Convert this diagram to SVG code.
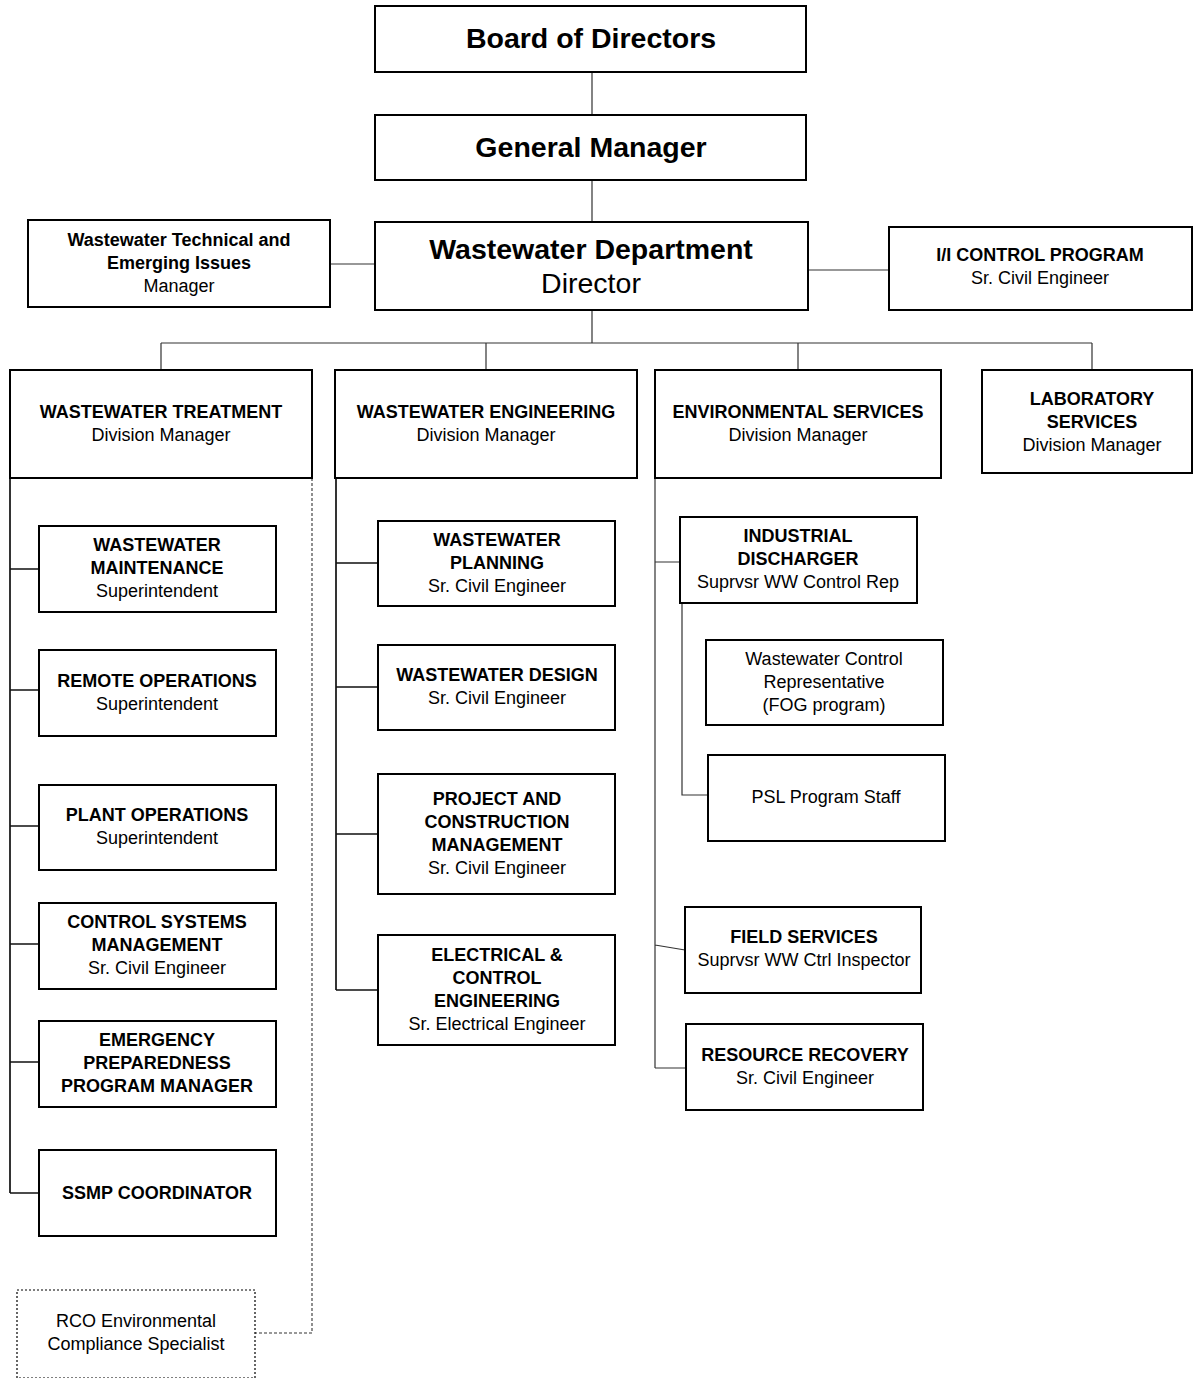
<svg xmlns="http://www.w3.org/2000/svg" width="1201" height="1378" viewBox="0 0 1201 1378">
<style>
.box{fill:#fff;stroke:#000;stroke-width:2}
.dot{fill:#fff;stroke:#000;stroke-width:1.2;stroke-dasharray:2 2}
.c{fill:none;stroke:#333;stroke-width:1.2}
.k{fill:none;stroke:#111;stroke-width:1.7}
.cd{fill:none;stroke:#333;stroke-width:1.1;stroke-dasharray:3 2}
text{font-family:"Liberation Sans",Arial,sans-serif;text-anchor:middle;fill:#000}
.b{font-weight:bold;font-size:18px}
.r{font-size:18px}
.B{font-weight:bold;font-size:28.5px}
.R{font-size:28.5px}
</style>
<rect width="1201" height="1378" fill="#fff"/>
<g id="connectors">
<path class="c" d="M592 72V115M592 180V222M331 264H375M808 270H889M592 310V343M161 343H1092M161 343V370M486 343V370M798 343V370M1092 343V370"/>
<path class="k" d="M10 478V1193M10 569H39M10 690H39M10 826H39M10 944H39M10 1062H39M10 1193H39"/>
<path class="k" d="M336 478V990M336 563H378M336 687H378M336 834H378M336 990H378"/>
<path class="c" d="M655 478V1068M655 562H680M655 945L685 950M655 1068H686M682 603V795H708"/>
<path class="cd" d="M312 478V1333H255"/>
</g>
<g id="board"><rect class="box" x="375" y="6" width="431" height="66"/><text class="B" x="591" y="48">Board of Directors</text></g>
<g id="gm"><rect class="box" x="375" y="115" width="431" height="65"/><text class="B" x="591" y="157">General Manager</text></g>
<g id="wwd"><rect class="box" x="375" y="222" width="433" height="88"/><text class="B" x="591" y="259">Wastewater Department</text><text class="R" x="591" y="293">Director</text></g>
<g id="tech"><rect class="box" x="28" y="220" width="302" height="87"/><text class="b" x="179" y="246">Wastewater Technical and</text><text class="b" x="179" y="269">Emerging Issues</text><text class="r" x="179" y="292">Manager</text></g>
<g id="ii"><rect class="box" x="889" y="227" width="303" height="83"/><text class="b" x="1040" y="261">I/I CONTROL PROGRAM</text><text class="r" x="1040" y="284">Sr. Civil Engineer</text></g>
<g id="wwt"><rect class="box" x="10" y="370" width="302" height="108"/><text class="b" x="161" y="418">WASTEWATER TREATMENT</text><text class="r" x="161" y="441">Division Manager</text></g>
<g id="wwe"><rect class="box" x="335" y="370" width="302" height="108"/><text class="b" x="486" y="418">WASTEWATER ENGINEERING</text><text class="r" x="486" y="441">Division Manager</text></g>
<g id="env"><rect class="box" x="655" y="370" width="286" height="108"/><text class="b" x="798" y="418">ENVIRONMENTAL SERVICES</text><text class="r" x="798" y="441">Division Manager</text></g>
<g id="lab"><rect class="box" x="982" y="370" width="210" height="103"/><text class="b" x="1092" y="405">LABORATORY</text><text class="b" x="1092" y="428">SERVICES</text><text class="r" x="1092" y="451">Division Manager</text></g>
<g id="maint"><rect class="box" x="39" y="526" width="237" height="86"/><text class="b" x="157" y="551">WASTEWATER</text><text class="b" x="157" y="574">MAINTENANCE</text><text class="r" x="157" y="597">Superintendent</text></g>
<g id="remote"><rect class="box" x="39" y="650" width="237" height="86"/><text class="b" x="157" y="687">REMOTE OPERATIONS</text><text class="r" x="157" y="710">Superintendent</text></g>
<g id="plant"><rect class="box" x="39" y="785" width="237" height="85"/><text class="b" x="157" y="821">PLANT OPERATIONS</text><text class="r" x="157" y="844">Superintendent</text></g>
<g id="control"><rect class="box" x="39" y="903" width="237" height="86"/><text class="b" x="157" y="928">CONTROL SYSTEMS</text><text class="b" x="157" y="951">MANAGEMENT</text><text class="r" x="157" y="974">Sr. Civil Engineer</text></g>
<g id="emerg"><rect class="box" x="39" y="1021" width="237" height="86"/><text class="b" x="157" y="1046">EMERGENCY</text><text class="b" x="157" y="1069">PREPAREDNESS</text><text class="b" x="157" y="1092">PROGRAM MANAGER</text></g>
<g id="ssmp"><rect class="box" x="39" y="1150" width="237" height="86"/><text class="b" x="157" y="1199">SSMP COORDINATOR</text></g>
<g id="rco"><rect class="dot" x="17" y="1290" width="238" height="88"/><text class="r" x="136" y="1327">RCO Environmental</text><text class="r" x="136" y="1350">Compliance Specialist</text></g>
<g id="plan"><rect class="box" x="378" y="521" width="237" height="85"/><text class="b" x="497" y="546">WASTEWATER</text><text class="b" x="497" y="569">PLANNING</text><text class="r" x="497" y="592">Sr. Civil Engineer</text></g>
<g id="design"><rect class="box" x="378" y="645" width="237" height="85"/><text class="b" x="497" y="681">WASTEWATER DESIGN</text><text class="r" x="497" y="704">Sr. Civil Engineer</text></g>
<g id="project"><rect class="box" x="378" y="774" width="237" height="120"/><text class="b" x="497" y="805">PROJECT AND</text><text class="b" x="497" y="828">CONSTRUCTION</text><text class="b" x="497" y="851">MANAGEMENT</text><text class="r" x="497" y="874">Sr. Civil Engineer</text></g>
<g id="elec"><rect class="box" x="378" y="935" width="237" height="110"/><text class="b" x="497" y="961">ELECTRICAL &amp;</text><text class="b" x="497" y="984">CONTROL</text><text class="b" x="497" y="1007">ENGINEERING</text><text class="r" x="497" y="1030">Sr. Electrical Engineer</text></g>
<g id="indus"><rect class="box" x="680" y="517" width="237" height="86"/><text class="b" x="798" y="542">INDUSTRIAL</text><text class="b" x="798" y="565">DISCHARGER</text><text class="r" x="798" y="588">Suprvsr WW Control Rep</text></g>
<g id="wwcr"><rect class="box" x="706" y="640" width="237" height="85"/><text class="r" x="824" y="665">Wastewater Control</text><text class="r" x="824" y="688">Representative</text><text class="r" x="824" y="711">(FOG program)</text></g>
<g id="psl"><rect class="box" x="708" y="755" width="237" height="86"/><text class="r" x="826" y="803">PSL Program Staff</text></g>
<g id="field"><rect class="box" x="685" y="907" width="236" height="86"/><text class="b" x="804" y="943">FIELD SERVICES</text><text class="r" x="804" y="966">Suprvsr WW Ctrl Inspector</text></g>
<g id="resource"><rect class="box" x="686" y="1024" width="237" height="86"/><text class="b" x="805" y="1061">RESOURCE RECOVERY</text><text class="r" x="805" y="1084">Sr. Civil Engineer</text></g>
</svg>
